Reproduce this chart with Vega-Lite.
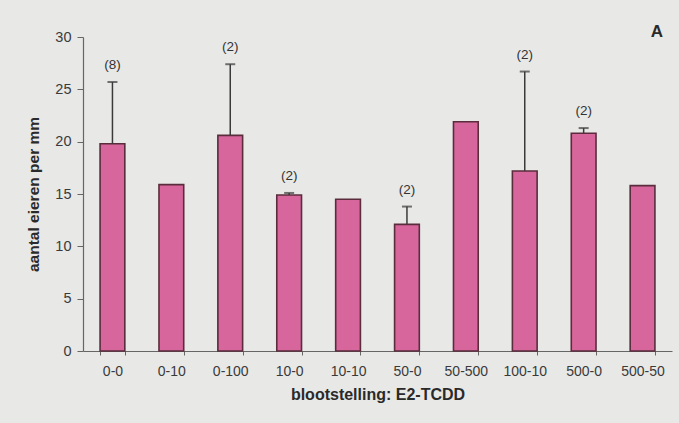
{
  "$schema": "https://vega.github.io/schema/vega-lite/v6.json",
  "autosize": "none",
  "width": 589,
  "height": 314,
  "padding": {"left": 83, "top": 37, "right": 7, "bottom": 72},
  "background": "#e8e8e7",
  "title": {"text": "A", "anchor": "end", "fontSize": 17, "font": "Liberation Sans", "fontWeight": "bold", "color": "#2a2a2a", "offset": -12, "dx": -9},
  "config": {"view": {"stroke": null}, "font": "Liberation Sans"},
  "data": {"values": [
    {"cat": "0-0", "value": 19.8, "top": 25.7, "n": "(8)"},
    {"cat": "0-10", "value": 15.9, "top": null, "n": null},
    {"cat": "0-100", "value": 20.6, "top": 27.4, "n": "(2)"},
    {"cat": "10-0", "value": 14.9, "top": 15.1, "n": "(2)"},
    {"cat": "10-10", "value": 14.5, "top": null, "n": null},
    {"cat": "50-0", "value": 12.1, "top": 13.8, "n": "(2)"},
    {"cat": "50-500", "value": 21.9, "top": null, "n": null},
    {"cat": "100-10", "value": 17.2, "top": 26.7, "n": "(2)"},
    {"cat": "500-0", "value": 20.8, "top": 21.3, "n": "(2)"},
    {"cat": "500-50", "value": 15.8, "top": null, "n": null}
  ]},
  "encoding": {
    "x": {
      "field": "cat", "type": "nominal", "sort": null,
      "scale": {"paddingInner": 0.58, "paddingOuter": 0.29},
      "axis": {
        "title": "blootstelling: E2-TCDD", "titleFontSize": 16, "titleFontWeight": "bold", "titleColor": "#2a2a2a", "titlePadding": 8,
        "labelAngle": 0, "labelFontSize": 14, "labelColor": "#3a3a3a", "labelPadding": 9,
        "tickBand": "extent", "tickSize": 4, "tickColor": "#666", "domainColor": "#666", "domainWidth": 1.2
      }
    }
  },
  "layer": [
    {
      "mark": {"type": "bar", "fill": "#d6669b", "stroke": "#5a2c3c", "strokeWidth": 1.6},
      "encoding": {
        "y": {
          "field": "value", "type": "quantitative",
          "scale": {"domain": [0, 30]},
          "axis": {
            "title": "aantal eieren per mm", "titleFontSize": 15.5, "titleFontWeight": "bold", "titleColor": "#2a2a2a", "titlePadding": 13,
            "values": [0, 5, 10, 15, 20, 25, 30], "grid": false,
            "labelFontSize": 14.5, "labelColor": "#3a3a3a", "labelPadding": 6,
            "tickSize": 6, "tickColor": "#666", "domainColor": "#666", "domainWidth": 1.2
          }
        }
      }
    },
    {
      "transform": [{"filter": "datum.top != null"}],
      "mark": {"type": "rule", "color": "#3a3a3a", "strokeWidth": 1.5},
      "encoding": {
        "y": {"field": "value", "type": "quantitative"},
        "y2": {"field": "top"}
      }
    },
    {
      "transform": [{"filter": "datum.top != null"}],
      "mark": {"type": "tick", "color": "#3a3a3a", "thickness": 2, "size": 10, "orient": "horizontal"},
      "encoding": {
        "y": {"field": "top", "type": "quantitative"}
      }
    },
    {
      "transform": [{"filter": "datum.n != null"}],
      "mark": {"type": "text", "fontSize": 13.5, "color": "#333", "baseline": "bottom", "dy": -10},
      "encoding": {
        "y": {"field": "top", "type": "quantitative"},
        "text": {"field": "n"}
      }
    }
  ]
}
